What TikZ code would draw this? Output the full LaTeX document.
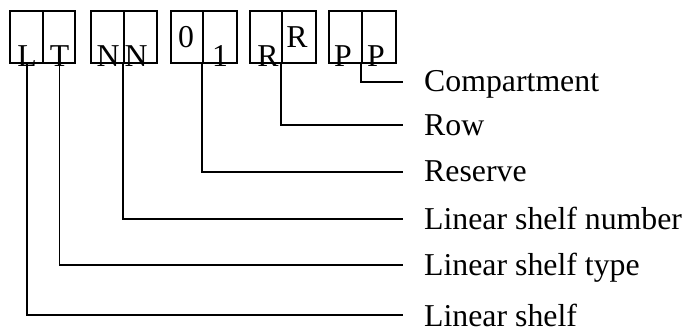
\documentclass[tikz,border=0pt]{standalone}
\usepackage{fontspec}
\setmainfont{Liberation Serif}
\begin{document}
\begin{tikzpicture}[x=1pt,y=1pt,
  cell/.style={draw,line width=1.5pt,minimum height=52pt,inner sep=0pt,anchor=south west},
  letter/.style={anchor=base,inner sep=0pt,font=\fontsize{31.8}{38}\selectfont},
  lab/.style={anchor=base west,inner sep=0pt,font=\fontsize{31.8}{38}\selectfont},
  conn/.style={line width=1.7pt}]
\useasboundingbox (0,0) rectangle (686,331);
% cells (image y 12..64 -> tikz 267..319)
\node[cell,minimum width=33pt] (c1) at (9,267) {};
\node[cell,minimum width=32pt] (c2) at (42,267) {};
\node[cell,minimum width=33pt] (c3) at (90,267) {};
\node[cell,minimum width=33pt] (c4) at (123,267) {};
\node[cell,minimum width=32pt] (c5) at (170,267) {};
\node[cell,minimum width=34pt] (c6) at (202,267) {};
\node[cell,minimum width=32pt] (c7) at (249,267) {};
\node[cell,minimum width=34pt] (c8) at (281,267) {};
\node[cell,minimum width=33pt] (c9) at (328,267) {};
\node[cell,minimum width=34pt] (c10) at (361,267) {};
% letters
\node[letter] (tL) at (27,264.5) {L};
\node[letter] (tT) at (59.5,264.5) {T};
\node[letter] (tN1) at (108,264.5) {N};
\node[letter] (tN2) at (136,264.5) {N};
\node[letter] (t0) at (186,283) {0};
\node[letter] (t1) at (220,264.5) {1};
\node[letter] (tR1) at (268,264.5) {R};
\node[letter] (tR2) at (297,283) {R};
\node[letter] (tP1) at (343,264.5) {P};
\node[letter] (tP2) at (376,264.5) {P};
% line ends
\coordinate (e1) at (403,249.3);
\coordinate (e2) at (403,206.3);
\coordinate (e3) at (403,159.3);
\coordinate (e4) at (403,112.3);
\coordinate (e5) at (403,66.3);
\coordinate (e6) at (403,16);
% labels
\node[lab] (l1) at (424,239.5) {Compartment};
\node[lab] (l2) at (424,195) {Row};
\node[lab] (l3) at (424,149) {Reserve};
\node[lab] (l4) at (424,101) {Linear shelf number};
\node[lab] (l5) at (424,55) {Linear shelf type};
\node[lab] (l6) at (424,4.5) {Linear shelf};
% connectors
\draw[conn] (c10.south west) |- (e1);
\draw[conn] (c8.south west) |- (e2);
\draw[conn] (c6.south west) |- (e3);
\draw[conn] (c4.south west) |- (e4);
\draw[conn] (c2.south -| tT.base) |- (e5);
\draw[conn] (c1.south -| tL.base) |- (e6);
\end{tikzpicture}
\end{document}
